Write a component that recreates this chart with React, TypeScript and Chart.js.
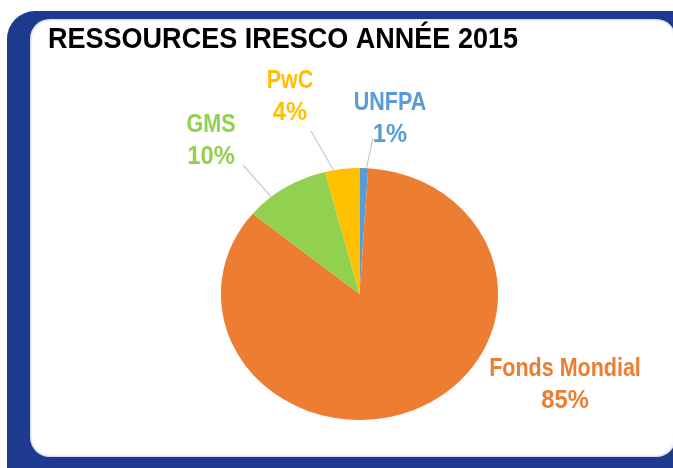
import React, { useEffect, useRef } from "react";
import { Chart, registerables } from "chart.js";

Chart.register(...registerables);

const TITLE = "RESSOURCES IRESCO ANNÉE 2015";
const categories = ["UNFPA", "Fonds Mondial", "GMS", "PwC"];
const values = [1, 85, 10, 4];
const percentLabels = ["1%", "85%", "10%", "4%"];
const colors = ["#5B9BD5", "#ED7D31", "#92D050", "#FFC000"];

// layout (style) constants
const labelAnchors: [number, number][] = [
  [390, 110],
  [565, 376],
  [211, 132],
  [290, 88],
];
const leaderEnds: ([number, number] | null)[] = [
  [373, 138],
  null,
  [243, 165],
  [311, 131],
];
// where along each slice's arc the leader line touches (0 = start, 1 = end)
const leaderArcFraction = [0.8, 0.5, 0.3, 0.25];
const ELLIPSE_SX = 1.1;

const FONT_FAMILY = "'Liberation Sans', Arial, sans-serif";

const ellipsePlugin = {
  id: "ellipse",
  beforeDatasetsDraw(chart: any) {
    const meta = chart.getDatasetMeta(0);
    const arc = meta.data[0];
    const ctx = chart.ctx;
    ctx.save();
    ctx.translate(arc.x, arc.y);
    ctx.scale(ELLIPSE_SX, 1);
    ctx.translate(-arc.x, -arc.y);
  },
  afterDatasetsDraw(chart: any) {
    chart.ctx.restore();
  },
};

const labelPlugin = {
  id: "labelsAndTitle",
  afterDraw(chart: any) {
    const ctx = chart.ctx as CanvasRenderingContext2D;
    const meta = chart.getDatasetMeta(0);
    // title
    ctx.save();
    ctx.font = `bold 29px ${FONT_FAMILY}`;
    ctx.fillStyle = "#000000";
    ctx.textAlign = "left";
    ctx.textBaseline = "alphabetic";
    ctx.fillText(TITLE, 48, 48, 470);
    ctx.restore();

    meta.data.forEach((arc: any, i: number) => {
      const { x, y, startAngle, endAngle, outerRadius } = arc.getProps(
        ["x", "y", "startAngle", "endAngle", "outerRadius"],
        true
      );
      const end = leaderEnds[i];
      if (end) {
        const ang = startAngle + leaderArcFraction[i] * (endAngle - startAngle);
        const sx = x + Math.cos(ang) * outerRadius * ELLIPSE_SX;
        const sy = y + Math.sin(ang) * outerRadius;
        ctx.save();
        ctx.strokeStyle = "rgba(195,195,195,0.9)";
        ctx.lineWidth = 1.2;
        ctx.beginPath();
        ctx.moveTo(sx, sy);
        ctx.lineTo(end[0], end[1]);
        ctx.stroke();
        ctx.restore();
      }
      const [lx, ly] = labelAnchors[i];
      ctx.save();
      ctx.font = `bold 25px ${FONT_FAMILY}`;
      ctx.fillStyle = colors[i];
      ctx.textAlign = "center";
      ctx.textBaseline = "alphabetic";
      const lines = [categories[i], percentLabels[i]];
      lines.forEach((t, k) => {
        ctx.save();
        ctx.translate(lx, ly + k * 32);
        ctx.scale(k === 0 ? 0.86 : 0.95, 1);
        ctx.fillText(t, 0, 0);
        ctx.restore();
      });
      ctx.restore();
    });
  },
};

export default function App() {
  const ref = useRef<HTMLCanvasElement>(null);
  useEffect(() => {
    if (!ref.current) return;
    const chart = new Chart(ref.current, {
      type: "pie",
      data: {
        labels: categories,
        datasets: [
          {
            data: values,
            backgroundColor: colors,
            borderWidth: 0,
            clip: false as any,
          },
        ],
      },
      options: {
        responsive: false,
        animation: false,
        rotation: 0,
        layout: {
          padding: { left: 233.5, right: 187.5, top: 168, bottom: 48 },
        },
        plugins: {
          legend: { display: false },
          tooltip: { enabled: false },
          title: { display: false },
        },
      },
      plugins: [ellipsePlugin, labelPlugin],
    });
    return () => chart.destroy();
  }, []);

  return (
    <div
      style={{
        position: "fixed",
        left: 0,
        top: 0,
        width: 673,
        height: 468,
        overflow: "hidden",
        background: "#ffffff",
      }}
    >
      <div
        style={{
          position: "absolute",
          left: 7,
          top: 11,
          width: 720,
          height: 500,
          background: "#1E3A8E",
          borderRadius: 28,
        }}
      />
      <div
        style={{
          position: "absolute",
          left: 30,
          top: 19,
          width: 646,
          height: 438,
          background: "#ffffff",
          borderRadius: 20,
          boxShadow: "inset 0 0 3px rgba(120,140,200,0.8)",
        }}
      />
      <canvas
        ref={ref}
        width={673}
        height={468}
        style={{ position: "absolute", left: 0, top: 0, width: 673, height: 468 }}
      />
    </div>
  );
}
